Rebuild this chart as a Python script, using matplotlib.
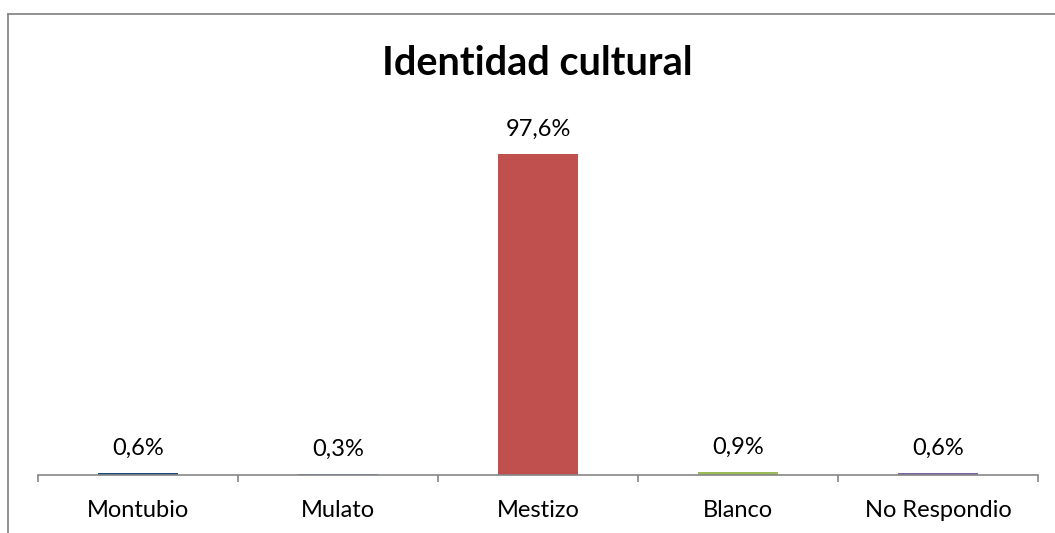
import matplotlib.pyplot as plt
from matplotlib.lines import Line2D

categories = ["Montubio", "Mulato", "Mestizo", "Blanco", "No Respondio"]
values = [0.6, 0.3, 97.6, 0.9, 0.6]
labels = ["0,6%", "0,3%", "97,6%", "0,9%", "0,6%"]
colors = ["#1F497D", "#4F81BD", "#C0504D", "#9BBB59", "#8064A2"]

plt.rcParams["font.family"] = ["Lato", "DejaVu Sans"]

W, H = 1055, 533
fig = plt.figure(figsize=(W / 100, H / 100), dpi=100)
ax = fig.add_axes([38 / W, 58 / H, 1000 / W, 395 / H])

x = list(range(len(categories)))
ax.bar(x, values, width=0.4, color=colors)
for xi, v, lab in zip(x, values, labels):
    ax.annotate(lab, (xi, v), xytext=(0, 13), textcoords="offset points",
                ha="center", va="baseline", fontsize=17, color="black")
    # category names under the axis
    ax.annotate(categories[xi], (xi, 0), xycoords=("data", "axes fraction"),
                xytext=(0, -30.2), textcoords="offset points",
                ha="center", va="baseline", fontsize=17, color="black")

ax.set_xlim(-0.5, len(categories) - 0.5)
ax.set_ylim(0, 120)
ax.set_xticks([i - 0.5 for i in range(len(categories) + 1)])
ax.set_xticklabels([])
ax.tick_params(axis="x", length=5.2, width=1.2, color="#868686", direction="out")
ax.set_yticks([])
for side in ["top", "right", "left"]:
    ax.spines[side].set_visible(False)
ax.spines["bottom"].set_color("#868686")
ax.spines["bottom"].set_linewidth(1.2)

fig.text(537 / W, 1 - 75 / H, "Identidad cultural", ha="center", va="baseline",
         fontsize=28.5, fontweight="bold")

# chart frame (top and left edges visible)
fig.add_artist(Line2D([7.5 / W, 1], [1 - 13.5 / H, 1 - 13.5 / H],
                      transform=fig.transFigure, color="#888888", linewidth=1.3))
fig.add_artist(Line2D([7.5 / W, 7.5 / W], [0, 1 - 13.5 / H],
                      transform=fig.transFigure, color="#888888", linewidth=1.3))

fig.savefig("out.png", dpi=100)
